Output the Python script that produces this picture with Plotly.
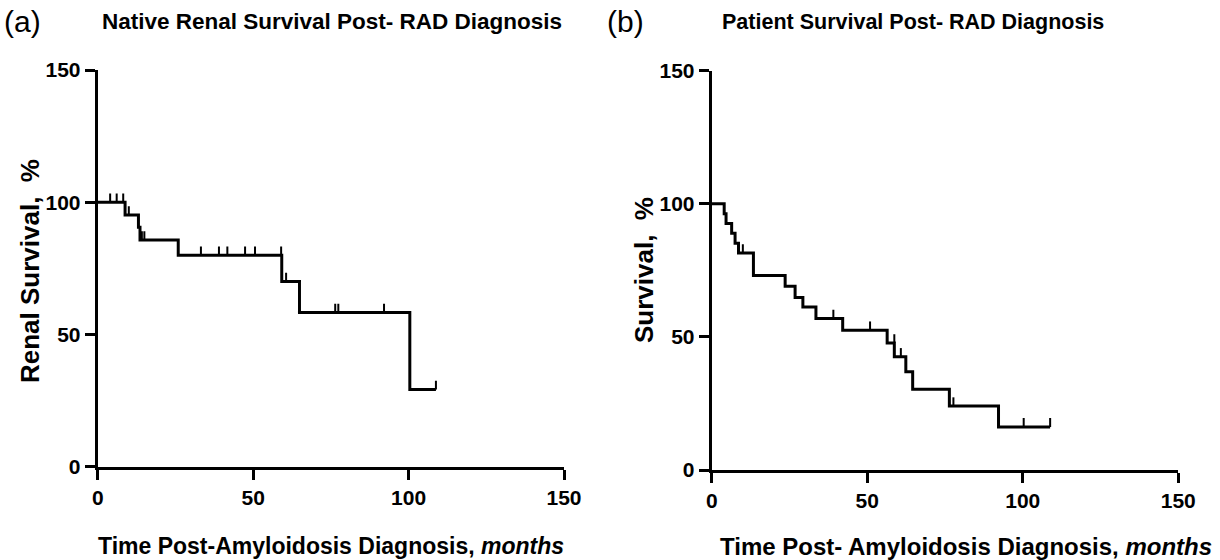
import plotly.graph_objects as go

# Panel (a): native renal survival (Kaplan-Meier step data)
renal_time = [0, 8.8, 13.1, 13.6, 25.9, 59.2, 64.9, 100.4, 108.8]
renal_surv = [100, 95.2, 90.5, 85.7, 80.0, 70.0, 58.3, 29.2, 29.2]
renal_cens_time = [4.0, 6.1, 8.2, 10.0, 14.2, 15.0, 33.2, 39.0, 41.7, 47.4, 50.6, 59.0, 60.6, 76.4, 77.4, 92.1, 108.8]
renal_cens_surv = [100, 100, 100, 95.2, 85.7, 85.7, 80.0, 80.0, 80.0, 80.0, 80.0, 80.0, 70.0, 58.3, 58.3, 58.3, 29.2]

# Panel (b): patient survival
pat_time = [0, 4.0, 4.6, 6.4, 7.5, 8.6, 13.4, 23.6, 26.8, 29.3, 33.5, 42.1, 56.4, 58.7, 62.4, 64.6, 76.4, 92.2, 108.8]
pat_surv = [100, 96.3, 92.6, 88.9, 85.2, 81.5, 73.1, 69.0, 64.8, 61.2, 56.9, 52.5, 47.7, 42.5, 36.9, 30.3, 24.0, 16.2, 16.2]
pat_cens_time = [10.0, 39.1, 50.9, 58.7, 60.8, 77.7, 100.3, 108.8]
pat_cens_surv = [81.5, 56.9, 52.5, 47.7, 42.5, 24.0, 16.2, 16.2]

axis_ticks = [0, 50, 100, 150]
CENS_H = 3.3

FONT = "Liberation Sans, Arial, sans-serif"


def cens_xy(ts, ss):
    xs, ys = [], []
    for t, s in zip(ts, ss):
        xs += [t, t, None]
        ys += [s, s + CENS_H, None]
    return xs, ys


fig = go.Figure()
for t, s, ct, cs, xa, ya in [
    (renal_time, renal_surv, renal_cens_time, renal_cens_surv, "x", "y"),
    (pat_time, pat_surv, pat_cens_time, pat_cens_surv, "x2", "y2"),
]:
    fig.add_trace(go.Scatter(x=t, y=s, mode="lines", line=dict(color="black", width=3, shape="hv"),
                             xaxis=xa, yaxis=ya, showlegend=False, hoverinfo="skip"))
    cx, cy = cens_xy(ct, cs)
    fig.add_trace(go.Scatter(x=cx, y=cy, mode="lines", line=dict(color="black", width=2),
                             xaxis=xa, yaxis=ya, showlegend=False, hoverinfo="skip"))

ax_common = dict(range=[0, 150], tickvals=axis_ticks, ticktext=[str(v) for v in axis_ticks],
                 showgrid=False, zeroline=False, showline=True, linecolor="black", linewidth=3,
                 ticks="outside", ticklen=10, tickwidth=3, tickcolor="black",
                 tickfont=dict(family=FONT, size=21, color="black", weight="bold"), automargin=False)

fig.update_layout(
    width=1220, height=560,
    margin=dict(l=0, r=0, t=0, b=0),
    paper_bgcolor="white", plot_bgcolor="white",
    xaxis=dict(domain=[0.0801, 0.4623], anchor="y", **ax_common),
    yaxis=dict(domain=[0.1666, 0.875], anchor="x", **ax_common),
    xaxis2=dict(domain=[0.5834, 0.9658], anchor="y2", **ax_common),
    yaxis2=dict(domain=[0.1607, 0.8738], anchor="x2", **ax_common),
)

ann = [
    dict(text="(a)", x=2, y=22, xanchor="left", font=dict(family=FONT, size=30)),
    dict(text="<b>Native Renal Survival Post- RAD Diagnosis</b>", x=331.5, y=22, xanchor="center", font=dict(family=FONT, size=22.5)),
    dict(text="(b)", x=605, y=22, xanchor="left", font=dict(family=FONT, size=30)),
    dict(text="<b>Patient Survival Post- RAD Diagnosis</b>", x=912.5, y=22, xanchor="center", font=dict(family=FONT, size=21.5)),
    dict(text="<b>Time Post-Amyloidosis Diagnosis, <i>months</i></b>", x=331, y=546, xanchor="center", font=dict(family=FONT, size=23)),
    dict(text="<b>Time Post- Amyloidosis Diagnosis, <i>months</i></b>", x=966, y=546, xanchor="center", font=dict(family=FONT, size=24)),
    dict(text="<b>Renal Survival,  %</b>", x=30, y=271, xanchor="center", textangle=-90, font=dict(family=FONT, size=26)),
    dict(text="<b>Survival,  %</b>", x=644, y=270, xanchor="center", textangle=-90, font=dict(family=FONT, size=26)),
]
for a in ann:
    fig.add_annotation(xref="paper", yref="paper", x=a["x"] / 1220, y=1 - a["y"] / 560,
                       xanchor=a["xanchor"], yanchor="middle", text=a["text"], showarrow=False,
                       textangle=a.get("textangle", 0), font=dict(color="black", **a["font"]))

fig.write_html("out.html", config={"displayModeBar": False},
               post_script="document.body.style.margin='0';")
